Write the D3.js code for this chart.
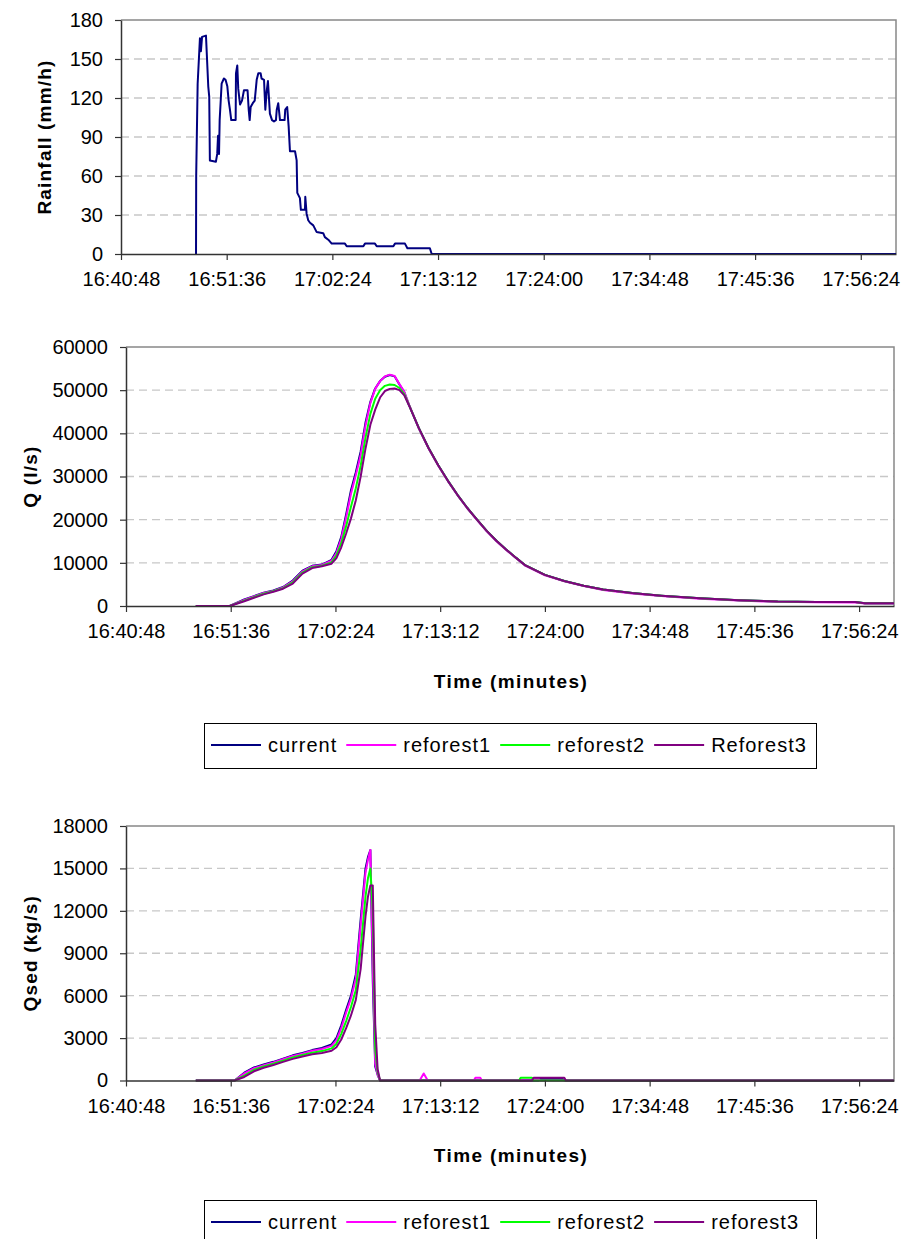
<!DOCTYPE html>
<html>
<head>
<meta charset="utf-8">
<script src="https://cdn.jsdelivr.net/npm/d3@7"></script>
<style>
  body { margin: 0; background: #fff; }
  svg { display: block; font-family: "Liberation Sans", Arial, sans-serif; }
</style>
</head>
<body>
<div id="chart"></div>
<script>
// ---- data ----
let xTickLabels = ["16:40:48", "16:51:36", "17:02:24", "17:13:12", "17:24:00", "17:34:48", "17:45:36", "17:56:24"];
let xEnd = "18:00:00";

let seriesNames = ["current", "reforest1", "reforest2", "Reforest3"];
let seriesNames2 = ["current", "reforest1", "reforest2", "reforest3"];
let seriesColors = ["#000080", "#ff00ff", "#00ff00", "#800080"];

// rainfall (mm/h)
let rainTicks = [0, 30, 60, 90, 120, 150, 180];
let rainTimes = ["16:48:28", "16:48:29", "16:48:38", "16:48:52", "16:48:58", "16:49:05", "16:49:29", "16:49:43", "16:49:49", "16:49:53",
    "16:50:30", "16:50:38", "16:50:43", "16:50:49", "16:50:53", "16:51:05", "16:51:19", "16:51:29", "16:51:40", "16:51:48",
    "16:51:56", "16:52:04", "16:52:31", "16:52:33", "16:52:41", "16:52:47", "16:52:58", "16:53:10", "16:53:22", "16:53:44",
    "16:53:51", "16:53:57", "16:54:03", "16:54:16", "16:54:28", "16:54:40", "16:54:50", "16:55:04", "16:55:10", "16:55:25",
    "16:55:33", "16:55:41", "16:55:49", "16:56:01", "16:56:14", "16:56:26", "16:56:38", "16:56:43", "16:56:52", "16:57:03",
    "16:57:31", "16:57:35", "16:57:47", "16:57:56", "16:58:04", "16:58:35", "16:58:45", "16:58:49", "16:59:05", "16:59:11",
    "16:59:36", "16:59:38", "16:59:46", "16:59:56", "17:00:07", "17:00:27", "17:00:47", "17:01:28", "17:01:38", "17:01:59",
    "17:02:20", "17:03:41", "17:03:52", "17:05:34", "17:05:44", "17:06:45", "17:06:56", "17:08:38", "17:08:48", "17:09:49",
    "17:10:04", "17:12:22", "17:12:33", "18:00:00"];
let rainValues = [0, 60, 131, 166, 156, 167, 168, 129, 121, 72,
    71, 77, 91, 77, 103, 131, 135, 134, 129, 118,
    111, 103, 103, 139, 145, 127, 115, 118, 126, 126,
    111, 103, 113, 116, 118, 134, 139, 139, 135, 134,
    111, 125, 133, 108, 103, 102, 103, 111, 116, 103,
    103, 111, 113, 98, 79, 79, 72, 47, 43, 34,
    34, 44, 31, 26, 24, 22, 17, 16, 13, 11,
    8, 8, 6, 6, 8, 8, 6, 6, 8, 8,
    4.4, 4.4, 0, 0];

// discharge Q (l/s)
let qTicks = [0, 10000, 20000, 30000, 40000, 50000, 60000];
let qTimes = ["16:48:00", "16:51:30", "16:53:00", "16:54:00", "16:55:00", "16:56:00", "16:57:00", "16:58:00", "16:59:00", "17:00:00",
    "17:01:00", "17:02:00", "17:02:30", "17:03:00", "17:03:30", "17:04:00", "17:04:30", "17:05:00", "17:05:30", "17:06:00",
    "17:06:30", "17:07:00", "17:07:30", "17:08:00", "17:08:30", "17:09:00", "17:09:30", "17:10:00", "17:11:00", "17:12:00",
    "17:13:00", "17:14:00", "17:15:00", "17:16:00", "17:17:00", "17:18:00", "17:19:00", "17:20:00", "17:21:00", "17:22:00",
    "17:24:00", "17:26:00", "17:28:00", "17:30:00", "17:33:00", "17:36:00", "17:40:00", "17:44:00", "17:48:00", "17:52:00",
    "17:56:00", "17:57:00", "18:00:00"];
let qCurrent = [0, 0, 1500, 2300, 3100, 3600, 4400, 5900, 8200, 9300,
    9600, 10700, 12700, 16000, 21200, 26800, 31000, 35800, 42500, 47300,
    50400, 52100, 53100, 53500, 53200, 51300, 49500, 46500, 41200, 36600,
    32600, 29000, 25700, 22700, 20000, 17400, 15100, 13100, 11200, 9400,
    7200, 5800, 4700, 3800, 3000, 2400, 1780, 1330, 1040, 950,
    900, 650, 650];
let qReforest1 = [0, 0, 1400, 2200, 3000, 3500, 4300, 5700, 8000, 9200,
    9500, 10500, 12300, 15500, 20500, 26000, 30300, 35000, 41800, 47000,
    50300, 52100, 53200, 53600, 53300, 51400, 49600, 46600, 41100, 36500,
    32500, 28900, 25600, 22600, 19900, 17300, 15000, 13000, 11100, 9300,
    7100, 5700, 4600, 3700, 2900, 2300, 1700, 1250, 960, 870,
    820, 600, 600];
let qReforest2 = [0, 0, 1250, 2050, 2850, 3400, 4150, 5450, 7750, 9000,
    9350, 10100, 11700, 14500, 18500, 23000, 27300, 32500, 39000, 44500,
    48000, 50000, 51000, 51300, 51200, 50500, 49100, 46500, 41200, 36600,
    32600, 29000, 25700, 22700, 20000, 17400, 15100, 13100, 11200, 9400,
    7200, 5800, 4700, 3800, 3000, 2400, 1780, 1330, 1040, 950,
    900, 650, 650];
let qReforest3 = [0, 0, 1100, 1900, 2700, 3300, 4000, 5200, 7500, 8800,
    9200, 9800, 11100, 13600, 16800, 20300, 24500, 30000, 36500, 42000,
    45500, 48300, 49800, 50300, 50400, 50000, 48800, 46400, 41200, 36600,
    32600, 29000, 25700, 22700, 20000, 17400, 15100, 13100, 11200, 9400,
    7200, 5800, 4700, 3800, 3000, 2400, 1780, 1330, 1040, 950,
    900, 650, 650];

// sediment discharge Qsed (kg/s)
let sedTicks = [0, 3000, 6000, 9000, 12000, 15000, 18000];
let sedTimes = ["16:48:00", "16:52:00", "16:53:00", "16:54:00", "16:55:00", "16:56:00", "16:57:00", "16:58:00", "16:59:00", "17:00:00",
    "17:01:00", "17:02:00", "17:02:30", "17:03:00", "17:03:30", "17:04:00", "17:04:30", "17:05:00", "17:05:30", "17:05:45",
    "17:06:00", "17:06:15", "17:06:30", "17:06:45", "17:07:00",
    "17:11:05", "17:11:30", "17:11:55", "17:16:40", "17:16:50", "17:17:20", "17:17:30", "17:21:20", "17:21:30", "17:22:40",
    "17:22:50", "17:23:20", "17:23:30", "17:25:50", "17:26:00", "17:26:10", "18:00:00"];
let sedCurrent = [0, 0, 550, 920, 1130, 1320, 1550, 1780, 1950, 2150,
    2300, 2550, 3000, 3900, 5000, 6000, 7500, 11400, 15000, 15800,
    16300, 7000, 1000, 400, 0,
    0, 0, 0, 0, 0, 0, 0, 0, 0, 0,
    0, 0, 100, 100, 0, 0, 0];
let sedReforest1 = [0, 0, 500, 870, 1080, 1270, 1500, 1730, 1900, 2100,
    2230, 2450, 2850, 3700, 4800, 5800, 7200, 11000, 14700, 15600,
    16300, 8000, 1200, 400, 0,
    0, 500, 0, 0, 200, 200, 0, 0, 0, 0,
    100, 100, 0, 0, 0, 0, 0];
let sedReforest2 = [0, 0, 350, 760, 990, 1180, 1400, 1630, 1800, 1970,
    2080, 2270, 2600, 3300, 4200, 5200, 6400, 9300, 13000, 14300,
    15000, 12000, 2200, 600, 0,
    0, 0, 0, 0, 0, 0, 0, 0, 200, 200,
    0, 0, 0, 0, 0, 0, 0];
let sedReforest3 = [0, 0, 250, 650, 900, 1100, 1320, 1530, 1700, 1850,
    1950, 2100, 2350, 2900, 3700, 4600, 5700, 7900, 11600, 13000,
    13800, 13800, 4000, 800, 0,
    0, 0, 0, 0, 0, 0, 0, 0, 0, 0,
    200, 200, 200, 200, 200, 0, 0];

// ---- drawing ----
let W = 904, H = 1239;
let parseT = d3.timeParse("%H:%M:%S");
let fmtT = d3.timeFormat("%H:%M:%S");
let xTicks = xTickLabels.map(parseT);

let svg = d3.select("#chart").append("svg")
    .attr("width", W)
    .attr("height", H);

function drawPanel(p) {
    let x = d3.scaleTime()
        .domain([xTicks[0], parseT(xEnd)])
        .range([p.left, p.right]);
    let y = d3.scaleLinear()
        .domain([0, d3.max(p.yTicks)])
        .range([p.bottom, p.top]);

    let g = svg.append("g");

    // dashed grid
    g.selectAll(".grid")
        .data(p.yTicks.slice(1, -1))
        .enter().append("line")
        .attr("x1", p.left).attr("x2", p.right)
        .attr("y1", d => y(d)).attr("y2", d => y(d))
        .attr("stroke", "#c8c8c8")
        .attr("stroke-width", 1.3)
        .attr("stroke-dasharray", "8,5");

    // top and right frame
    g.append("path")
        .attr("d", `M${p.left},${p.top}H${p.right}V${p.bottom}`)
        .attr("fill", "none")
        .attr("stroke", "#888")
        .attr("stroke-width", 1.5);

    // series
    let line = d3.line()
        .x(d => x(d[0]))
        .y(d => y(d[1]));

    p.series.forEach(s => {
        let pts = s.times.map((t, i) => [parseT(t), s.values[i]]);
        g.append("path")
            .datum(pts)
            .attr("fill", "none")
            .attr("stroke", s.color)
            .attr("stroke-width", 2)
            .attr("stroke-linejoin", "round")
            .attr("d", line);
    });

    // axes
    let yAxis = d3.axisLeft(y)
        .tickValues(p.yTicks)
        .tickFormat(d3.format("d"))
        .tickSize(6)
        .tickSizeOuter(0)
        .tickPadding(12);
    let gy = g.append("g")
        .attr("transform", `translate(${p.left},0)`)
        .call(yAxis);

    let xAxis = d3.axisBottom(x)
        .tickValues(xTicks)
        .tickFormat(fmtT)
        .tickSize(6)
        .tickSizeOuter(0)
        .tickPadding(12);
    let gx = g.append("g")
        .attr("transform", `translate(0,${p.bottom})`)
        .call(xAxis);

    [gx, gy].forEach(a => {
        a.select(".domain").attr("stroke", "#333").attr("stroke-width", 1.5);
        a.selectAll(".tick line").attr("stroke", "#333").attr("stroke-width", 1.2);
        a.selectAll("text")
            .attr("fill", "#000")
            .style("font-size", "20px")
            .style("font-family", "'Liberation Sans', Arial, sans-serif");
    });

    // titles
    g.append("text")
        .attr("transform", `translate(${p.yTitleX},${(p.top + p.bottom) / 2}) rotate(-90)`)
        .attr("text-anchor", "middle")
        .attr("dominant-baseline", "central")
        .style("font-size", "19px")
        .style("font-weight", "bold")
        .style("letter-spacing", "1.2px")
        .text(p.yTitle);

    if (p.xTitleY) {
        g.append("text")
            .attr("x", (p.left + p.right) / 2 + 1)
            .attr("y", p.xTitleY)
            .attr("text-anchor", "middle")
            .attr("dominant-baseline", "central")
            .style("font-size", "19px")
            .style("font-weight", "bold")
            .style("letter-spacing", "1.4px")
            .text("Time (minutes)");
    }
}

function drawLegend(top, names) {
    let g = svg.append("g");
    g.append("rect")
        .attr("x", 204.5).attr("y", top + 0.5)
        .attr("width", 612).attr("height", 45)
        .attr("fill", "#fff")
        .attr("stroke", "#000")
        .attr("stroke-width", 1);

    let cx = 211;
    let cy = top + 22;
    names.forEach((n, i) => {
        g.append("line")
            .attr("x1", cx).attr("x2", cx + 50)
            .attr("y1", cy).attr("y2", cy)
            .attr("stroke", seriesColors[i])
            .attr("stroke-width", 2);
        let t = g.append("text")
            .attr("x", cx + 57)
            .attr("y", cy)
            .attr("dominant-baseline", "central")
            .style("font-size", "20px")
            .style("letter-spacing", "1px")
            .text(n);
        cx += 57 + t.node().getComputedTextLength() + 9;
    });
}

function mkSeries(times, lists) {
    return lists.map((v, i) => ({times: times, values: v, color: seriesColors[i]}));
}

drawPanel({
    top: 20, bottom: 254, left: 121, right: 896,
    yTicks: rainTicks, yTitle: "Rainfall (mm/h)", yTitleX: 44,
    series: [{times: rainTimes, values: rainValues, color: seriesColors[0]}]
});

drawPanel({
    top: 347, bottom: 606, left: 126, right: 894,
    yTicks: qTicks, yTitle: "Q (l/s)", yTitleX: 30, xTitleY: 681,
    series: mkSeries(qTimes, [qCurrent, qReforest1, qReforest2, qReforest3])
});

drawLegend(723, seriesNames);

drawPanel({
    top: 826, bottom: 1080.5, left: 126, right: 894,
    yTicks: sedTicks, yTitle: "Qsed (kg/s)", yTitleX: 30, xTitleY: 1155,
    series: mkSeries(sedTimes, [sedCurrent, sedReforest1, sedReforest2, sedReforest3])
});

drawLegend(1200, seriesNames2);
</script>
</body>
</html>
